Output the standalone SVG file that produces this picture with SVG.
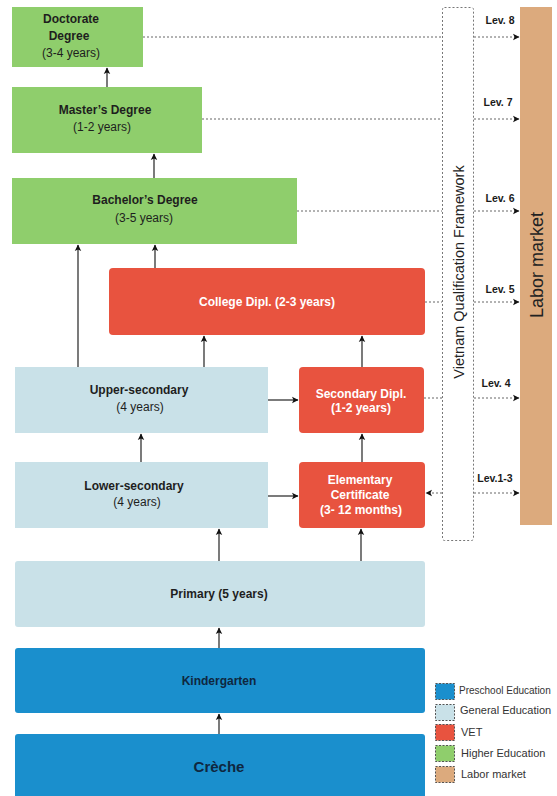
<svg xmlns="http://www.w3.org/2000/svg" width="557" height="796" viewBox="0 0 557 796">
  <style>
    text { font-family: "Liberation Sans", Arial, sans-serif; }
    .hi { fill: #8fce6c; }
    .vet { fill: #e8533f; }
    .gen { fill: #c9e1e8; }
    .pre { fill: #1a8fcd; }
    .lab { fill: #dcaa7d; }
    .t { font-size: 12px; fill: #1e1e1e; text-anchor: middle; }
    .b { font-weight: bold; }
    .w { fill: #ffffff; }
    .lev { font-size: 10.5px; font-weight: bold; fill: #1a1a1a; text-anchor: middle; }
    .leg { font-size: 11px; fill: #333; }
    .arr { stroke: #333; stroke-width: 1.3; fill: none; marker-end: url(#ah); }
    .dash { stroke: #666; stroke-width: 1; stroke-dasharray: 2 2; fill: none; }
    .darr { stroke: #666; stroke-width: 1; stroke-dasharray: 2 2; fill: none; marker-end: url(#ah); }
    .lbox { stroke: #555; stroke-width: 1; stroke-dasharray: 2 1.5; }
  </style>
  <defs>
    <marker id="ah" markerWidth="8" markerHeight="8" refX="6" refY="4" orient="auto" markerUnits="userSpaceOnUse">
      <path d="M0,0.8 L6.5,4 L0,7.2 L1.5,4 Z" fill="#111"/>
    </marker>
  </defs>

  <!-- Higher education -->
  <g id="doctorate">
    <rect x="12" y="7" width="131" height="60" class="hi"/>
    <text class="t b" x="71" y="23">Doctorate</text>
    <text class="t b" x="69" y="40">Degree</text>
    <text class="t" x="71" y="57">(3-4 years)</text>
  </g>
  <g id="masters">
    <rect x="12" y="87" width="190" height="66" class="hi"/>
    <text class="t b" x="105" y="114">Master’s Degree</text>
    <text class="t" x="102" y="131">(1-2 years)</text>
  </g>
  <g id="bachelors">
    <rect x="12" y="178" width="285" height="66" class="hi"/>
    <text class="t b" x="145" y="204">Bachelor’s Degree</text>
    <text class="t" x="144" y="222">(3-5 years)</text>
  </g>

  <!-- VET -->
  <g id="college">
    <rect x="109" y="268" width="316" height="67" rx="4" class="vet"/>
    <text class="t b w" x="267" y="306">College Dipl. (2-3 years)</text>
  </g>
  <g id="secondary-dipl">
    <rect x="299" y="367" width="125" height="66" rx="4" class="vet"/>
    <text class="t b w" x="361" y="398">Secondary Dipl.</text>
    <text class="t b w" x="361" y="412">(1-2 years)</text>
  </g>
  <g id="elementary">
    <rect x="299" y="462" width="126" height="66" rx="4" class="vet"/>
    <text class="t b w" x="360" y="484">Elementary</text>
    <text class="t b w" x="360" y="499">Certificate</text>
    <text class="t b w" x="361" y="514">(3- 12 months)</text>
  </g>

  <!-- General education -->
  <g id="upper-secondary">
    <rect x="15" y="367" width="253" height="66" class="gen"/>
    <text class="t b" x="139" y="394">Upper-secondary</text>
    <text class="t" x="140" y="411">(4 years)</text>
  </g>
  <g id="lower-secondary">
    <rect x="15" y="462" width="253" height="66" class="gen"/>
    <text class="t b" x="134" y="490">Lower-secondary</text>
    <text class="t" x="137" y="506">(4 years)</text>
  </g>
  <g id="primary">
    <rect x="15" y="561" width="410" height="66" rx="3" class="gen"/>
    <text class="t b" x="219" y="598">Primary (5 years)</text>
  </g>

  <!-- Preschool -->
  <g id="kindergarten">
    <rect x="15" y="648" width="410" height="65" rx="3" class="pre"/>
    <text class="t b" x="219" y="685" style="fill:#0f2740">Kindergarten</text>
  </g>
  <g id="creche">
    <rect x="15" y="734" width="410" height="66" rx="3" class="pre"/>
    <text class="t b" x="219" y="772" style="font-size:15px;fill:#0f2740">Crèche</text>
  </g>

  <!-- Qualification framework -->
  <g id="framework">
    <rect x="442.5" y="7.5" width="31" height="533" rx="2" fill="#fff" stroke="#777" stroke-width="1" stroke-dasharray="2 2"/>
    <text x="459" y="272" transform="rotate(-90 459 272)" text-anchor="middle" dominant-baseline="central" style="font-size:14.5px;fill:#222">Vietnam Qualification Framework</text>
  </g>

  <!-- Labor market -->
  <g id="labor-market">
    <rect x="520" y="7" width="32" height="518" class="lab"/>
    <text x="537" y="265" transform="rotate(-90 537 265)" text-anchor="middle" dominant-baseline="central" style="font-size:18px;fill:#222">Labor market</text>
  </g>

  <!-- Connectors -->
  <g id="connectors">
    <path class="arr" d="M107,87 V68"/>
    <path class="arr" d="M154,178 V154"/>
    <path class="arr" d="M78,367 V245"/>
    <path class="arr" d="M155,268 V245"/>
    <path class="arr" d="M204,367 V336"/>
    <path class="arr" d="M362,367 V336"/>
    <path class="arr" d="M141,462 V434"/>
    <path class="arr" d="M362,462 V434"/>
    <path class="arr" d="M268,400 H298"/>
    <path class="arr" d="M268,496 H298"/>
    <path class="arr" d="M219,561 V529"/>
    <path class="arr" d="M361,561 V529"/>
    <path class="arr" d="M219,648 V628"/>
    <path class="arr" d="M219,734 V714"/>

    <!-- levels into the framework -->
    <path class="dash" d="M143,37 H442"/>
    <path class="dash" d="M202,119 H442"/>
    <path class="dash" d="M297,211 H442"/>
    <path class="dash" d="M425,302 H442"/>
    <path class="dash" d="M424,398 H442"/>
    <path class="darr" d="M442,493 H426"/>

    <!-- framework to labor market -->
    <path class="darr" d="M474,37 H519"/>
    <path class="darr" d="M474,119 H519"/>
    <path class="darr" d="M474,211 H519"/>
    <path class="darr" d="M474,302 H519"/>
    <path class="darr" d="M474,398 H519"/>
    <path class="darr" d="M474,493 H519"/>
    <text class="lev" x="500" y="24">Lev. 8</text>
    <text class="lev" x="498" y="106">Lev. 7</text>
    <text class="lev" x="500" y="202">Lev. 6</text>
    <text class="lev" x="500" y="293">Lev. 5</text>
    <text class="lev" x="496" y="387">Lev. 4</text>
    <text class="lev" x="495" y="482">Lev.1-3</text>
  </g>

  <!-- Legend -->
  <g id="legend">
    <rect x="435.5" y="683.5" width="19" height="16" class="pre lbox"/>
    <rect x="435.5" y="704.5" width="19" height="16" class="gen lbox"/>
    <rect x="435.5" y="724.5" width="19" height="16" class="vet lbox"/>
    <rect x="435.5" y="745.5" width="19" height="16" class="hi lbox"/>
    <rect x="435.5" y="766.5" width="19" height="16" class="lab lbox"/>
    <text class="leg" x="459" y="694" style="font-size:10px">Preschool Education</text>
    <text class="leg" x="460" y="714">General Education</text>
    <text class="leg" x="461" y="736">VET</text>
    <text class="leg" x="461" y="757">Higher Education</text>
    <text class="leg" x="461" y="778">Labor market</text>
  </g>
</svg>
